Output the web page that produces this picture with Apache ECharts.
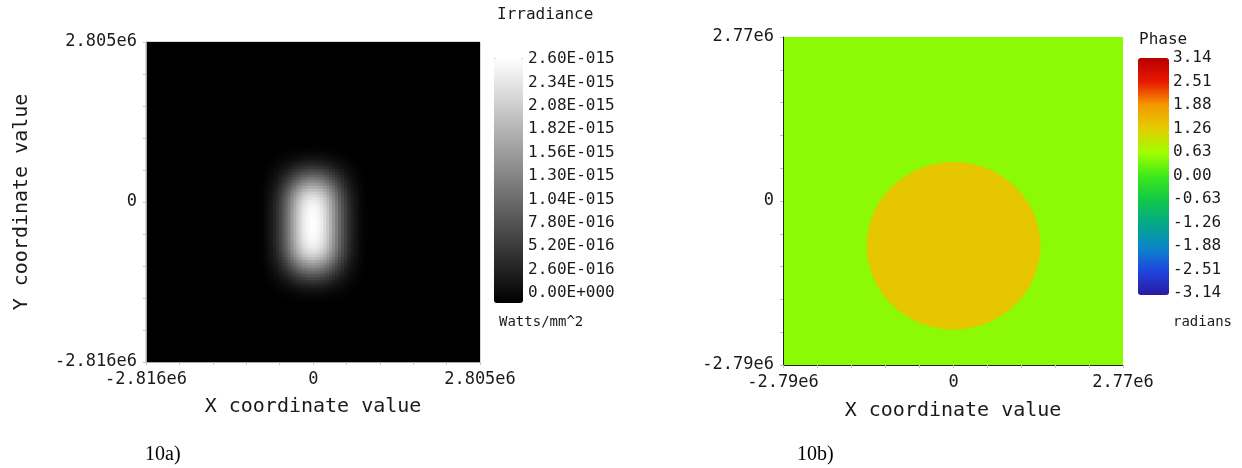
<!DOCTYPE html>
<html>
<head>
<meta charset="utf-8">
<script src="https://cdn.jsdelivr.net/npm/echarts@6/dist/echarts.min.js"></script>
<style>
  html, body { margin: 0; padding: 0; background: #ffffff; }
  #chart { width: 1242px; height: 468px; }
</style>
</head>
<body>
<div id="chart"></div>
<script>
// ---- 10a) irradiance map ----
const irrXRange = [-2.816e6, 2.805e6];
const irrYRange = [-2.816e6, 2.805e6];
const irrAxisLabelValues = [-2.816e6, 0, 2.805e6];
const irrAxisLabelTexts = ['-2.816e6', '0', '2.805e6'];
const irrPeak = 2.6e-15;                 // W/mm^2 at the spot centre
const irrSpotCenter = [0, -0.39e6];      // x, y of the spot centre
const irrCellStep = 0.05e6;              // sampling step of the profiles
// relative irradiance across the spot (x: -1.00e6 .. +1.00e6 about centre)
const irrXProfile = [0, 0.005, 0.01, 0.02, 0.04, 0.07, 0.10, 0.14, 0.19, 0.26, 0.33, 0.41, 0.50, 0.60, 0.69, 0.78, 0.86, 0.92, 0.96, 0.99,
  1.00,
  0.99, 0.96, 0.92, 0.86, 0.78, 0.69, 0.60, 0.50, 0.41, 0.33, 0.26, 0.19, 0.14, 0.10, 0.07, 0.04, 0.02, 0.01, 0.005, 0];
// relative irradiance along the spot (y: -1.45e6 .. +1.45e6 about centre)
const irrYProfile = [0, 0.005, 0.01, 0.02, 0.035, 0.055, 0.08, 0.12, 0.16, 0.21, 0.27, 0.33, 0.40, 0.47, 0.54,
  0.61, 0.68, 0.75, 0.81, 0.86, 0.90, 0.93, 0.95, 0.97, 0.98, 0.99, 0.99, 1.00, 1.00,
  1.00,
  1.00, 1.00, 0.99, 0.99, 0.98, 0.97, 0.95, 0.93, 0.90, 0.86, 0.81, 0.75, 0.68, 0.61,
  0.54, 0.47, 0.40, 0.33, 0.27, 0.21, 0.16, 0.12, 0.08, 0.055, 0.035, 0.02, 0.01, 0.005, 0];
const irrScaleTicks = ['0.00E+000', '2.60E-016', '5.20E-016', '7.80E-016', '1.04E-015', '1.30E-015',
  '1.56E-015', '1.82E-015', '2.08E-015', '2.34E-015', '2.60E-015'];

// ---- 10b) phase map ----
const phXRange = [-2.79e6, 2.77e6];
const phYRange = [-2.79e6, 2.77e6];
const phAxisLabelValues = [-2.79e6, 0, 2.77e6];
const phAxisLabelTexts = ['-2.79e6', '0', '2.77e6'];
const phBackground = 0.50;               // rad, outside the aperture
const phSpotValue = 1.35;                // rad, inside the aperture
const phSpotCenter = [0, -0.77e6];
const phSpotRadius = 1.42e6;
const phScaleTicks = ['-3.14', '-2.51', '-1.88', '-1.26', '-0.63', '0.00', '0.63', '1.26', '1.88', '2.51', '3.14'];
const phPalette = ['#2a1aa0', '#1e44e0', '#0a86c8', '#05a88a', '#10c848', '#3ce81a',
  '#a0ff00', '#e2ce00', '#f59a00', '#e81800', '#b80000'];

// ---- build the series data ----
const irrCells = [];
const xMid = (irrXProfile.length - 1) / 2;
const yMid = (irrYProfile.length - 1) / 2;
irrXProfile.forEach((px, i) => {
  irrYProfile.forEach((py, j) => {
    const v = irrPeak * px * py;
    if (v > 0) {
      irrCells.push([irrSpotCenter[0] + (i - xMid) * irrCellStep,
                     irrSpotCenter[1] + (j - yMid) * irrCellStep, v]);
    }
  });
});

const MONO = '"DejaVu Sans Mono", monospace';
const TXT = '#1a1a1a';

function tenTicks(range) {
  const out = [];
  for (let k = 0; k <= 10; k++) out.push(range[0] + (range[1] - range[0]) * k / 10);
  return out;
}
function labelLookup(values, texts) {
  return v => {
    let best = 0;
    values.forEach((x, i) => { if (Math.abs(x - v) < Math.abs(values[best] - v)) best = i; });
    return texts[best];
  };
}

function plotAxis(gridIndex, range, labelValues, labelTexts, lineColor, extra) {
  return Object.assign({
    gridIndex, type: 'value', min: range[0], max: range[1], z: 5,
    axisLine: { show: true, onZero: false, lineStyle: { color: lineColor, width: 1 } },
    axisTick: { show: true, customValues: tenTicks(range), length: 3, lineStyle: { color: '#c4c4c4' } },
    axisLabel: { customValues: labelValues, formatter: labelLookup(labelValues, labelTexts),
      fontFamily: MONO, fontSize: 17, color: TXT, margin: 9 },
    splitLine: { show: false }
  }, extra || {});
}

// background rectangle item: [xMin, yMin, value, xMax, yMax]
function rectItem(api) {
  const p0 = api.coord([api.value(0), api.value(4)]);
  const p1 = api.coord([api.value(3), api.value(1)]);
  return { type: 'rect', shape: { x: p0[0], y: p0[1], width: p1[0] - p0[0], height: p1[1] - p0[1] },
           style: { fill: api.visual('color') } };
}

const chart = echarts.init(document.getElementById('chart'), null, { renderer: 'canvas' });

chart.setOption({
  animation: false,
  backgroundColor: '#ffffff',
  grid: [
    { left: 146, top: 42, width: 334, height: 320, show: true, borderColor: '#b0b0b0', borderWidth: 1, backgroundColor: 'transparent' },
    { left: 783, top: 37, width: 340, height: 328 },
    { left: 494, top: 59, width: 29, height: 234 },
    { left: 1138, top: 58, width: 31, height: 235 }
  ],
  xAxis: [
    plotAxis(0, irrXRange, irrAxisLabelValues, irrAxisLabelTexts, '#a8a8a8', {
      name: 'X coordinate value', nameLocation: 'middle', nameGap: 35,
      nameTextStyle: { fontFamily: MONO, fontSize: 20, color: TXT } }),
    plotAxis(1, phXRange, phAxisLabelValues, phAxisLabelTexts, '#222222', {
      name: 'X coordinate value', nameLocation: 'middle', nameGap: 36,
      nameTextStyle: { fontFamily: MONO, fontSize: 20, color: TXT } }),
    { gridIndex: 2, type: 'value', show: false, min: 0, max: 1 },
    { gridIndex: 3, type: 'value', show: false, min: 0, max: 1 }
  ],
  yAxis: [
    plotAxis(0, irrYRange, irrAxisLabelValues, irrAxisLabelTexts, '#a8a8a8', {
      name: 'Y coordinate value', nameLocation: 'middle', nameGap: 114, nameRotate: 90,
      nameTextStyle: { fontFamily: MONO, fontSize: 20, color: TXT } }),
    plotAxis(1, phYRange, phAxisLabelValues, phAxisLabelTexts, '#222222'),
    { gridIndex: 2, type: 'category', data: irrScaleTicks, position: 'right', boundaryGap: false,
      axisLine: { show: false }, axisTick: { show: false }, splitLine: { show: false },
      axisLabel: { fontFamily: MONO, fontSize: 16, color: TXT, margin: 5, interval: 0 } },
    { gridIndex: 3, type: 'category', data: phScaleTicks, position: 'right', boundaryGap: false,
      axisLine: { show: false }, axisTick: { show: false }, splitLine: { show: false },
      axisLabel: { fontFamily: MONO, fontSize: 16, color: TXT, margin: 4, interval: 0 } }
  ],
  visualMap: [
    { type: 'continuous', seriesIndex: [0, 1], dimension: 2, min: 0, max: irrPeak,
      inRange: { color: ['#000000', '#ffffff'] },
      left: 494, top: 58, itemWidth: 29, itemHeight: 245, padding: 0,
      calculable: false, hoverLink: false, text: null },
    { type: 'continuous', seriesIndex: [2, 3], dimension: 2, min: -3.14, max: 3.14,
      inRange: { color: phPalette },
      left: 1138, top: 58, itemWidth: 31, itemHeight: 237, padding: 0,
      calculable: false, hoverLink: false, text: null }
  ],
  series: [
    { // zero-irradiance field
      type: 'custom', xAxisIndex: 0, yAxisIndex: 0, silent: true, clip: true,
      data: [[irrXRange[0], irrYRange[0], 0, irrXRange[1], irrYRange[1]]],
      renderItem: (params, api) => rectItem(api)
    },
    { // irradiance spot
      type: 'custom', xAxisIndex: 0, yAxisIndex: 0, silent: true, clip: true,
      data: irrCells,
      renderItem: (params, api) => {
        const p = api.coord([api.value(0), api.value(1)]);
        const s = api.size([irrCellStep, irrCellStep]);
        return { type: 'rect',
          shape: { x: p[0] - s[0] / 2 - 0.5, y: p[1] - s[1] / 2 - 0.5, width: s[0] + 1, height: s[1] + 1 },
          style: { fill: api.visual('color') } };
      }
    },
    { // phase outside the aperture
      type: 'custom', xAxisIndex: 1, yAxisIndex: 1, silent: true, clip: true,
      data: [[phXRange[0], phYRange[0], phBackground, phXRange[1], phYRange[1]]],
      renderItem: (params, api) => rectItem(api)
    },
    { // phase inside the aperture: [cx, cy, value, r]
      type: 'custom', xAxisIndex: 1, yAxisIndex: 1, silent: true, clip: true,
      data: [[phSpotCenter[0], phSpotCenter[1], phSpotValue, phSpotRadius]],
      renderItem: (params, api) => {
        const c = api.coord([api.value(0), api.value(1)]);
        const s = api.size([api.value(3), api.value(3)]);
        return { type: 'ellipse', shape: { cx: c[0], cy: c[1], rx: s[0], ry: s[1] },
          style: { fill: api.visual('color') } };
      }
    }
  ],
  graphic: [
    { type: 'line', shape: { x1: 494, y1: 58.5, x2: 523, y2: 58.5 }, style: { stroke: '#bdbdbd', lineWidth: 1 }, silent: true },
    { type: 'text', x: 497, y: 15, style: { text: 'Irradiance', font: '16px ' + MONO, fill: TXT, verticalAlign: 'middle' } },
    { type: 'text', x: 499, y: 322, style: { text: 'Watts/mm^2', font: '14px ' + MONO, fill: TXT, verticalAlign: 'middle' } },
    { type: 'text', x: 1139, y: 40, style: { text: 'Phase', font: '16px ' + MONO, fill: TXT, verticalAlign: 'middle' } },
    { type: 'text', x: 1173, y: 322, style: { text: 'radians', font: '14px ' + MONO, fill: TXT, verticalAlign: 'middle' } },
    { type: 'text', x: 145, y: 455, style: { text: '10a)', font: '20px "Liberation Serif", serif', fill: '#000', verticalAlign: 'middle' } },
    { type: 'text', x: 797, y: 455, style: { text: '10b)', font: '20px "Liberation Serif", serif', fill: '#000', verticalAlign: 'middle' } }
  ]
});
</script>
</body>
</html>
